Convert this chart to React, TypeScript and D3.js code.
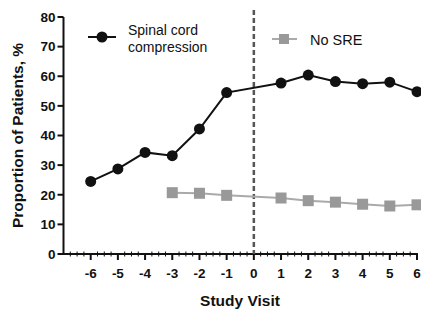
import React from 'react';
import * as d3 from 'd3';

const visits = [-6, -5, -4, -3, -2, -1, 1, 2, 3, 4, 5, 6];
const spinalValues = [24.5, 28.7, 34.3, 33.2, 42.2, 54.5, 57.7, 60.4, 58.2, 57.5, 58.0, 54.8];
const noSreVisits = [-3, -2, -1, 1, 2, 3, 4, 5, 6];
const noSreValues = [20.7, 20.5, 19.8, 18.9, 18.0, 17.5, 16.8, 16.2, 16.6];
const xTicks = [-6, -5, -4, -3, -2, -1, 0, 1, 2, 3, 4, 5, 6];
const yTicks = [0, 10, 20, 30, 40, 50, 60, 70, 80];

const W = 421;
const H = 311;
const font = '"Liberation Sans", Arial, Helvetica, sans-serif';

export default function App() {
  const x = d3.scaleLinear().domain([-7, 6]).range([63.5, 417]);
  const y = d3.scaleLinear().domain([0, 80]).range([254, 17]);

  const line = d3.line<[number, number]>()
    .x(d => x(d[0]))
    .y(d => y(d[1]));

  const spinal = visits.map((v, i) => [v, spinalValues[i]] as [number, number]);
  const noSre = noSreVisits.map((v, i) => [v, noSreValues[i]] as [number, number]);
  const minor = d3.range(-7, 6.01, 0.25).filter(v => !Number.isInteger(v));

  return (
    <svg width={W} height={H} style={{ position: 'absolute', left: 0, top: 0 }}>
      <rect width={W} height={H} fill="#fff" />

      {/* y axis */}
      <line x1={x(-7)} x2={x(-7)} y1={y(80)} y2={y(0)} stroke="#111" strokeWidth={2} />
      {yTicks.map(t => (
        <g key={t}>
          <line x1={x(-7) - 6} x2={x(-7)} y1={y(t)} y2={y(t)} stroke="#111" strokeWidth={2} />
          <text x={x(-7) - 8} y={y(t)} dy="0.36em" textAnchor="end" fontFamily={font}
            fontWeight="bold" fontSize={13.5} fill="#111">{t}</text>
        </g>
      ))}

      {/* x axis */}
      <line x1={x(-7) - 3} x2={x(6) + 1} y1={y(0)} y2={y(0)} stroke="#111" strokeWidth={2} />
      {minor.map(t => (
        <line key={t} x1={x(t)} x2={x(t)} y1={y(0) - 2.5} y2={y(0) + 2.5} stroke="#111" strokeWidth={1} />
      ))}
      {xTicks.map(t => (
        <g key={t}>
          <line x1={x(t)} x2={x(t)} y1={y(0)} y2={y(0) + 6} stroke="#111" strokeWidth={2} />
          <text x={x(t)} y={y(0) + 19} dy="0.36em" textAnchor="middle" fontFamily={font}
            fontWeight="bold" fontSize={13.5} fill="#111">{t}</text>
        </g>
      ))}

      {/* dashed reference at visit 0 */}
      <line x1={x(0)} x2={x(0)} y1={10} y2={y(0)} stroke="#555" strokeWidth={2.5} strokeDasharray="5,3" />

      {/* No SRE series */}
      <path d={line(noSre) || ''} fill="none" stroke="#aaa" strokeWidth={2} />
      {noSre.map(d => (
        <rect key={d[0]} x={x(d[0]) - 5.5} y={y(d[1]) - 5.5} width={11} height={11} fill="#999" />
      ))}

      {/* Spinal cord compression series */}
      <path d={line(spinal) || ''} fill="none" stroke="#111" strokeWidth={2} />
      {spinal.map(d => (
        <circle key={d[0]} cx={x(d[0])} cy={y(d[1])} r={5.5} fill="#111" />
      ))}

      {/* legend */}
      <line x1={88} x2={116} y1={37} y2={37} stroke="#111" strokeWidth={2} />
      <circle cx={102} cy={37} r={5.5} fill="#111" />
      <text x={128} y={35} fontFamily={font} fontSize={14} fill="#111">Spinal cord</text>
      <text x={128} y={52} fontFamily={font} fontSize={14} fill="#111">compression</text>
      <line x1={272} x2={297} y1={39} y2={39} stroke="#aaa" strokeWidth={2} />
      <rect x={279} y={34} width={10} height={10} fill="#999" />
      <text x={310} y={45} fontFamily={font} fontSize={14.5} fill="#111">No SRE</text>

      {/* axis titles */}
      <text x={240} y={306} textAnchor="middle" fontFamily={font} fontWeight="bold" fontSize={15.5} fill="#111">Study Visit</text>
      <text transform={`translate(23, ${y(40)}) rotate(-90)`} textAnchor="middle" fontFamily={font}
        fontWeight="bold" fontSize={15.5} fill="#111">Proportion of Patients, %</text>
    </svg>
  );
}
